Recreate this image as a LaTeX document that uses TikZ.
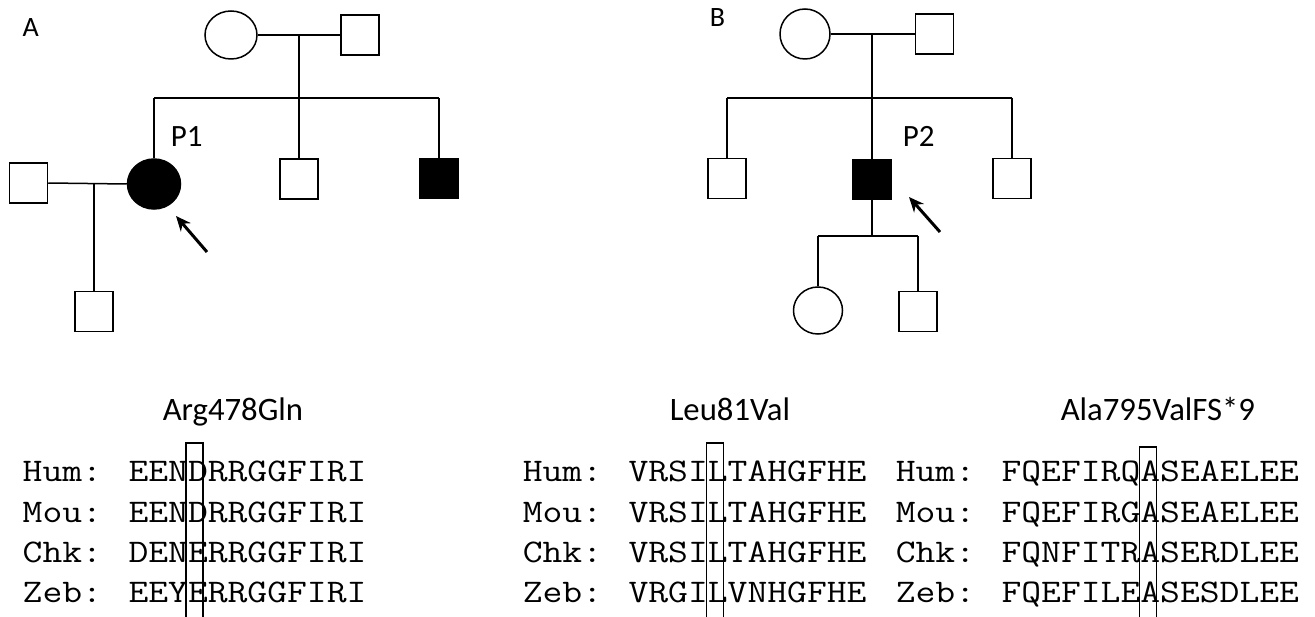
\documentclass[tikz,border=0pt]{standalone}
\usepackage{fontspec}
\usepackage{graphicx}
\setmainfont{Carlito}
\usetikzlibrary{shapes.geometric,arrows.meta}
% widened typewriter line for the alignments
\newcommand\seqline[1]{\scalebox{1.167}[1]{#1}}
\begin{document}
\begin{tikzpicture}[x=1pt,y=-1pt,
  line width=1.5pt,
  male/.style={draw,rectangle,inner sep=0,minimum width=38pt,minimum height=40pt},
  female/.style={draw,ellipse,inner sep=0,minimum width=52pt,minimum height=48pt},
  affected/.style={fill=black},
  link/.style={line width=1.5pt},
  proband/.style={line width=3pt,-{Stealth[length=15pt,width=13pt]}},
  panel/.style={inner sep=0,anchor=base west,font=\fontsize{28}{30}\selectfont},
  plabel/.style={inner sep=0,anchor=base west,font=\fontsize{31}{33}\selectfont},
  title/.style={inner sep=0,anchor=base west,font=\fontsize{32.7}{36}\selectfont},
  seq/.style={inner sep=0,anchor=base west,font=\ttfamily\fontsize{33}{40}\selectfont},
  site/.style={draw,line width=1.5pt}]
\useasboundingbox (0,0) rectangle (1315,617);
\clip (0,0) rectangle (1315,617);

% ---------------- Pedigree A ----------------
\node[panel] (labA) at (22,37) {A};
\node[female] (gmA) at (231,35) {};
\node[male] (gfA) at (360,35) {};
\node[female,affected,minimum width=53pt,minimum height=50pt] (p1) at (154,184) {};
\node[male] (a2) at (299,179) {};
\node[male,affected] (a3) at (439,178.5) {};
\node[male] (spA) at (28.5,183) {};
\node[male] (chA) at (94,311.5) {};
\node[plabel] (lp1) at (170,147) {P1};

\coordinate (mA) at (299,35);
\coordinate (sA) at (299,98);
\coordinate (sAl) at (154,98);
\coordinate (sAr) at (439,98);
\coordinate (mA2) at (94,183);
\draw[link] (gmA.east) -- (gfA.west);
\draw[link] (mA) -- (sA);
\draw[link] (sAl) -- (sAr);
\draw[link] (sAl) -- (p1.north);
\draw[link] (sA) -- (a2.north);
\draw[link] (sAr) -- (a3.north);
\draw[link] (spA.east) -- (p1.west);
\draw[link] (mA2) -- (chA.north);
\coordinate (arA) at (207,252);
\coordinate (arAt) at (176,216);
\draw[proband] (arA) -- (arAt);

% ---------------- Pedigree B ----------------
\node[panel] (labB) at (709,27) {B};
\node[female,minimum width=50pt,minimum height=50pt] (gmB) at (805,34) {};
\node[male] (gfB) at (934.5,34) {};
\node[male] (b1) at (727,178.5) {};
\node[male,affected] (p2) at (872,179.5) {};
\node[male] (b3) at (1012,178.5) {};
\node[female,minimum width=49pt,minimum height=47pt] (dB) at (818,310.5) {};
\node[male] (sB) at (918,311.5) {};
\node[plabel] (lp2) at (902,147) {P2};

\coordinate (mB) at (872,34);
\coordinate (sBm) at (872,98);
\coordinate (sBl) at (727,98);
\coordinate (sBr) at (1012,98);
\coordinate (cB) at (872,236);
\coordinate (cBl) at (818,236);
\coordinate (cBr) at (918,236);
\draw[link] (gmB.east) -- (gfB.west);
\draw[link] (mB) -- (sBm);
\draw[link] (sBl) -- (sBr);
\draw[link] (sBl) -- (b1.north);
\draw[link] (sBm) -- (p2.north);
\draw[link] (sBr) -- (b3.north);
\draw[link] (p2.south) -- (cB);
\draw[link] (cBl) -- (cBr);
\draw[link] (cBl) -- (dB.north);
\draw[link] (cBr) -- (sB.north);
\coordinate (arB) at (940,232);
\coordinate (arBt) at (909,197);
\draw[proband] (arB) -- (arBt);

% ---------------- Conservation: Arg478Gln ----------------
\node[title] (t1) at (162,421) {Arg478Gln};
\node[seq] (h1) at (22,482) {\seqline{Hum: EENDRRGGFIRI}};
\node[seq] (m1) at (22,522) {\seqline{Mou: EENDRRGGFIRI}};
\node[seq] (c1) at (22,562) {\seqline{Chk: DENERRGGFIRI}};
\node[seq] (z1) at (22,602) {\seqline{Zeb: EEYERRGGFIRI}};
\draw[site] (185.9,443) rectangle (202.9,630);

% ---------------- Conservation: Leu81Val ----------------
\node[title] (t2) at (669,421) {Leu81Val};
\node[seq] (h2) at (522,482) {\seqline{Hum: VRSILTAHGFHE}};
\node[seq] (m2) at (522,522) {\seqline{Mou: VRSILTAHGFHE}};
\node[seq] (c2) at (522,562) {\seqline{Chk: VRSILTAHGFHE}};
\node[seq] (z2) at (522,602) {\seqline{Zeb: VRGILVNHGFHE}};
\draw[site] (706.6,443) rectangle (723.6,630);

% ---------------- Conservation: Ala795ValFS*9 ----------------
\node[title] (t3) at (1060,421) {Ala795ValFS*9};
\node[seq] (h3) at (895,482) {\seqline{Hum: FQEFIRQASEAELEE}};
\node[seq] (m3) at (895,522) {\seqline{Mou: FQEFIRGASEAELEE}};
\node[seq] (c3) at (895,562) {\seqline{Chk: FQNFITRASERDLEE}};
\node[seq] (z3) at (895,602) {\seqline{Zeb: FQEFILEASESDLEE}};
\draw[site] (1139.3,447) rectangle (1156.3,630);
\end{tikzpicture}
\end{document}
